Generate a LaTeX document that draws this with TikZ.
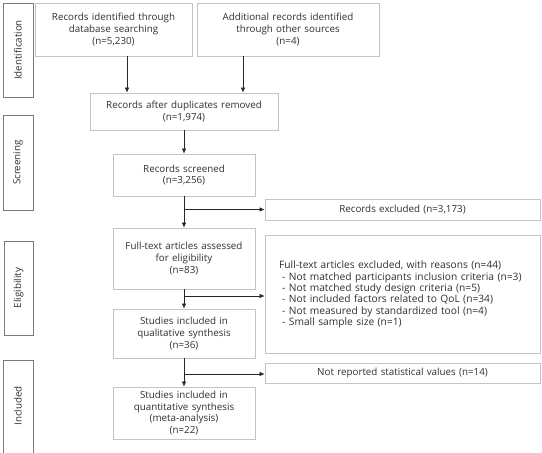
\documentclass[tikz,border=0pt]{standalone}
\usepackage{fontspec}
\setmainfont{Open Sans}[WordSpace=1.3]
\usetikzlibrary{arrows.meta}
\definecolor{boxline}{HTML}{C4C4C4}
\definecolor{sideline}{HTML}{7A7A7A}
\definecolor{txt}{HTML}{303030}
\definecolor{arrline}{HTML}{262626}
\tikzset{
  box/.style={draw=boxline, line width=0.8pt, fill=white, text=txt, align=center,
    inner sep=0pt, font=\fontsize{9.8}{11.8}\selectfont},
  side/.style={draw=sideline, line width=0.9pt, text=txt, inner sep=0pt},
  sidetext/.style={rotate=90, text=txt, inner sep=0pt, font=\fontsize{9.8}{11}\selectfont},
  arr/.style={draw=arrline, line width=0.6pt, -{Latex[length=5pt,width=4.5pt]}},
}
\begin{document}
\begin{tikzpicture}[x=1pt,y=-1pt]
\useasboundingbox[fill=white] (0,0) rectangle (542,453);
% side labels
\node[side, minimum width=30pt, minimum height=94pt] (sid) at (18,50) {};
\node[sidetext] (tid) at (sid.center) {Identification};
\node[side, minimum width=30pt, minimum height=95pt] (sscr) at (18,162.5) {};
\node[sidetext] (tscr) at (sscr.center) {Screening};
\node[side, minimum width=29pt, minimum height=94pt] (seli) at (18.5,288) {};
\node[sidetext] (teli) at (seli.center) {Eligibility};
\coordinate (incA) at (3,460);
\coordinate (incB) at (33,460);
\draw[draw=sideline, line width=0.9pt] (incA) -- (3,360) -- (33,360) -- (incB);
\node[sidetext] (tinc) at (18,406) {Included};
% boxes
\node[box, minimum width=157pt, minimum height=53pt] (db) at (113.5,29.5)
  {Records identified through\\database searching\\(n=5,230)};
\node[box, minimum width=182pt, minimum height=53pt] (add) at (288,29.5)
  {Additional records identified\\through other sources\\(n=4)};
\node[box, minimum width=188pt, minimum height=37pt] (dup) at (184,111.5)
  {Records after duplicates removed\\(n=1,974)};
\node[box, minimum width=142pt, minimum height=42pt] (scr) at (184,175)
  {Records screened\\(n=3,256)};
\node[box, minimum width=275pt, minimum height=21pt] (excl) at (402.5,209.5)
  {Records excluded (n=3,173)};
\node[box, minimum width=142pt, minimum height=61pt] (full) at (184,258.5)
  {Full-text articles assessed\\for eligibility\\(n=83)};
\node[box, minimum width=275pt, minimum height=118pt] (reas) at (402.5,294) {};
\node[text=txt, align=left, anchor=west, inner sep=0pt, font=\fontsize{10.2}{11.3}\selectfont] (reastxt) at (279,294.5)
  {Full-text articles excluded, with reasons (n=44)\\
   \hspace*{3pt}- Not matched participants inclusion criteria (n=3)\\
   \hspace*{3pt}- Not matched study design criteria (n=5)\\
   \hspace*{3pt}- Not included factors related to QoL (n=34)\\
   \hspace*{3pt}- Not measured by standardized tool (n=4)\\
   \hspace*{3pt}- Small sample size (n=1)};
\node[box, minimum width=142pt, minimum height=49pt] (qual) at (184,333.5)
  {Studies included in\\qualitative synthesis\\(n=36)};
\node[box, minimum width=275pt, minimum height=20pt] (nrep) at (402.5,373)
  {Not reported statistical values (n=14)};
\node[box, minimum width=142pt, minimum height=52pt] (quant) at (184,413)
  {Studies included in\\quantitative synthesis\\(meta-analysis)\\(n=22)};
% connectors
\draw[arr] ([xshift=13.5pt]db.south) -- ([xshift=13.5pt]db.south |- dup.north);
\draw[arr] ([xshift=-45pt]add.south) -- ([xshift=-45pt]add.south |- dup.north);
\draw[arr] (dup.south) -- (scr.north);
\draw[arr] (scr.south) -- (full.north);
\draw[arr] (scr.south |- excl.west) -- (excl.west);
\draw[arr] (full.south) -- (qual.north);
\draw[arr] ([yshift=-2pt]full.south |- reas.west) -- ([yshift=-2pt]reas.west);
\draw[arr] (qual.south) -- (quant.north);
\draw[arr] ([yshift=-1pt]qual.south |- nrep.west) -- ([yshift=-1pt]nrep.west);
\end{tikzpicture}
\end{document}
